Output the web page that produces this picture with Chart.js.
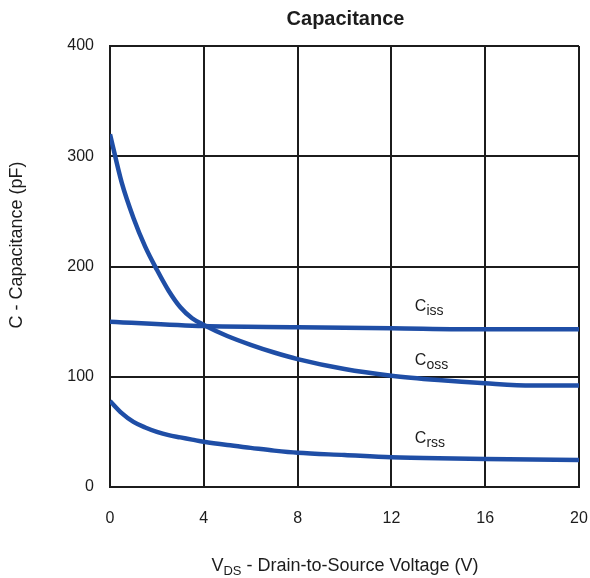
<!DOCTYPE html>
<html>
<head>
<meta charset="utf-8">
<script src="https://cdn.jsdelivr.net/npm/chart.js@4"></script>
<style>
  html, body { margin: 0; padding: 0; background: #ffffff; }
  #wrap { width: 590px; height: 578px; }
</style>
</head>
<body>
<div id="wrap"><canvas id="c" width="590" height="578"></canvas></div>
<script>
// ---- data ----
const vdsCoss = [0, 0.5, 1, 1.5, 2, 2.5, 3, 3.5, 4, 5, 6, 7, 8, 10, 12, 14, 16, 18, 20];
const coss    = [320, 276, 244, 218, 197, 178, 163, 153, 147, 137, 129, 122, 116, 107, 101, 97, 94, 92, 92];
const vdsCrss = [0, 0.5, 1, 1.5, 2, 2.5, 3, 3.5, 4, 5, 6, 7, 8, 10, 12, 14, 16, 18, 20];
const crss    = [78, 67, 59, 54, 50, 47, 45, 43, 41, 38, 35.5, 33, 31, 29, 27, 26, 25.5, 25, 24.5];
const vdsCiss = [0, 4, 8, 12, 16, 20];
const ciss    = [150, 146, 145, 144, 143, 143];

const xTicks = [0, 4, 8, 12, 16, 20];
const yTicks = [0, 100, 200, 300, 400];

const seriesMain = ['C', 'C', 'C'];
const seriesSub  = ['iss', 'oss', 'rss'];
// label anchors in data units (V, pF)
const labelV = [13.0, 13.0, 13.0];
const labelC = [160, 111, 40];

const chartTitle = 'Capacitance';
const yTitle = 'C - Capacitance (pF)';
const xTitleMain = 'V';
const xTitleSub = 'DS';
const xTitleRest = ' - Drain-to-Source Voltage (V)';

// ---- build ----
const pts = (xs, ys) => xs.map((x, i) => ({ x: x, y: ys[i] }));
const BLUE = '#1f4ea6';
const INK = '#1c1c1c';
const FONT = '"Liberation Sans", Arial, Helvetica, sans-serif';

function lineDs(data) {
  return {
    data: data,
    showLine: true,
    borderColor: BLUE,
    borderWidth: 4.5,
    pointRadius: 0,
    fill: false,
    cubicInterpolationMode: 'monotone'
  };
}

function drawSub(ctx, x, y, main, sub, mainPx, subPx, weight) {
  ctx.font = (weight || '') + ' ' + mainPx + 'px ' + FONT;
  ctx.textBaseline = 'alphabetic';
  ctx.textAlign = 'left';
  ctx.fillText(main, x, y);
  const w = ctx.measureText(main).width;
  ctx.font = (weight || '') + ' ' + subPx + 'px ' + FONT;
  ctx.fillText(sub, x + w, y + subPx * 0.3);
  return w + ctx.measureText(sub).width;
}

const textPlugin = {
  id: 'texts',
  afterDraw(chart) {
    const ctx = chart.ctx;
    const xs = chart.scales.x, ys = chart.scales.y;
    const area = chart.chartArea;
    ctx.save();
    ctx.fillStyle = INK;
    // title
    ctx.font = 'bold 20px ' + FONT;
    ctx.textAlign = 'center';
    ctx.textBaseline = 'middle';
    ctx.fillText(chartTitle, (area.left + area.right) / 2 + 1, 19);
    // y title
    ctx.save();
    ctx.translate(17, 245);
    ctx.rotate(-Math.PI / 2);
    ctx.font = '18px ' + FONT;
    ctx.textAlign = 'center';
    ctx.textBaseline = 'middle';
    ctx.fillText(yTitle, 0, 0);
    ctx.restore();
    // x title with subscript
    ctx.font = '18px ' + FONT;
    const wMain = ctx.measureText(xTitleMain).width;
    const wRest = ctx.measureText(xTitleRest).width;
    ctx.font = '13px ' + FONT;
    const wSub = ctx.measureText(xTitleSub).width;
    let x0 = 345 - (wMain + wSub + wRest) / 2;
    const yb = 571;
    const used = drawSub(ctx, x0, yb, xTitleMain, xTitleSub, 18, 13, '');
    ctx.font = '18px ' + FONT;
    ctx.fillText(xTitleRest, x0 + used, yb);
    // series labels
    for (let i = 0; i < seriesMain.length; i++) {
      const px = xs.getPixelForValue(labelV[i]);
      const py = ys.getPixelForValue(labelC[i]);
      drawSub(ctx, px, py, seriesMain[i], seriesSub[i], 16, 14, '');
    }
    ctx.restore();
  }
};

new Chart(document.getElementById('c'), {
  type: 'scatter',
  data: {
    datasets: [
      lineDs(pts(vdsCiss, ciss)),
      lineDs(pts(vdsCoss, coss)),
      lineDs(pts(vdsCrss, crss))
    ]
  },
  options: {
    responsive: false,
    animation: false,
    devicePixelRatio: 1,
    layout: { padding: { top: 46, right: 11, left: 0, bottom: 0 } },
    plugins: {
      legend: { display: false },
      title: { display: false },
      tooltip: { enabled: false }
    },
    scales: {
      x: {
        type: 'linear',
        min: 0, max: 20,
        afterBuildTicks: (s) => { s.ticks = xTicks.map(v => ({ value: v })); },
        afterFit: (s) => { s.height = 91; s.paddingLeft = 0; s.paddingRight = 0; },
        grid: { color: INK, lineWidth: 2, drawTicks: false },
        border: { color: INK, width: 2 },
        ticks: { color: INK, font: { family: FONT, size: 16 }, padding: 22, maxRotation: 0 }
      },
      y: {
        type: 'linear',
        min: 0, max: 400,
        afterBuildTicks: (s) => { s.ticks = yTicks.map(v => ({ value: v })); },
        afterFit: (s) => { s.width = 110; s.paddingTop = 0; s.paddingBottom = 0; },
        grid: { color: INK, lineWidth: 2, drawTicks: false },
        border: { color: INK, width: 2 },
        ticks: { color: INK, font: { family: FONT, size: 16 }, padding: 16 }
      }
    }
  },
  plugins: [textPlugin]
});
</script>
</body>
</html>
